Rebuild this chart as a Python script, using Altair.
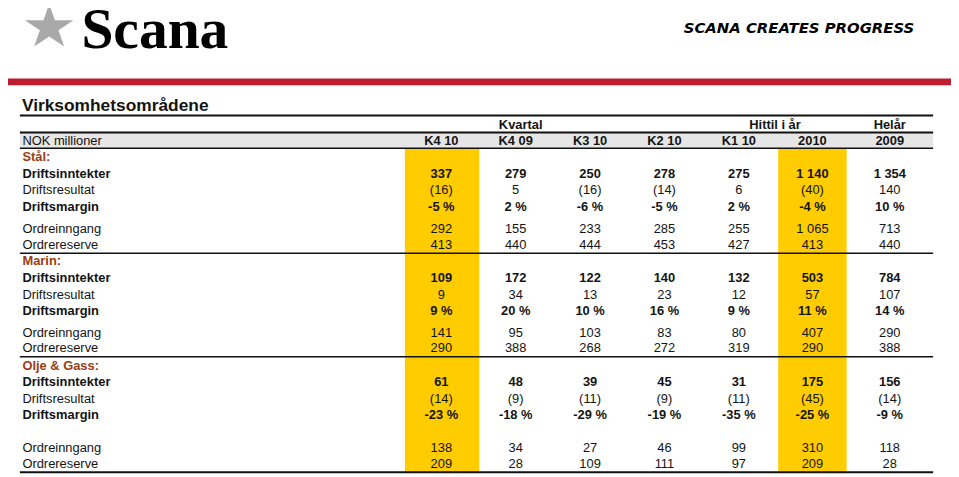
import altair as alt
import pandas as pd

# ---------------- data ----------------
columns = ["K4 10", "K4 09", "K3 10", "K2 10", "K1 10", "2010", "2009"]
group_headers = ["Kvartal", "Hittil i år", "Helår"]
unit_label = "NOK millioner"
title = "Virksomhetsområdene"
brand = "Scana"
tagline = "SCANA CREATES PROGRESS"
segments = ["Stål:", "Marin:", "Olje & Gass:"]
row_labels = ["Driftsinntekter", "Driftsresultat", "Driftsmargin", "Ordreinngang", "Ordrereserve"]
row_kind = ["num", "paren", "pct", "num", "num"]
row_bold = [True, False, True, False, False]

stal_driftsinntekter = [337, 279, 250, 278, 275, 1140, 1354]
stal_driftsresultat = [-16, 5, -16, -14, 6, -40, 140]
stal_driftsmargin = [-5, 2, -6, -5, 2, -4, 10]
stal_ordreinngang = [292, 155, 233, 285, 255, 1065, 713]
stal_ordrereserve = [413, 440, 444, 453, 427, 413, 440]

marin_driftsinntekter = [109, 172, 122, 140, 132, 503, 784]
marin_driftsresultat = [9, 34, 13, 23, 12, 57, 107]
marin_driftsmargin = [9, 20, 10, 16, 9, 11, 14]
marin_ordreinngang = [141, 95, 103, 83, 80, 407, 290]
marin_ordrereserve = [290, 388, 268, 272, 319, 290, 388]

olje_driftsinntekter = [61, 48, 39, 45, 31, 175, 156]
olje_driftsresultat = [-14, -9, -11, -9, -11, -45, -14]
olje_driftsmargin = [-23, -18, -29, -19, -35, -25, -9]
olje_ordreinngang = [138, 34, 27, 46, 99, 310, 118]
olje_ordrereserve = [209, 28, 109, 111, 97, 209, 28]

segment_rows = [
    [stal_driftsinntekter, stal_driftsresultat, stal_driftsmargin, stal_ordreinngang, stal_ordrereserve],
    [marin_driftsinntekter, marin_driftsresultat, marin_driftsmargin, marin_ordreinngang, marin_ordrereserve],
    [olje_driftsinntekter, olje_driftsresultat, olje_driftsmargin, olje_ordreinngang, olje_ordrereserve],
]
highlight_columns = ["K4 10", "2010"]

# ---------------- layout (column units / row-slot units) ----------------
W, H = 951, 469
X_DOMAIN = [-4.8267, 7.8533]
Y_DOMAIN = [-7.92, 20.22]
col_u = [1, 2, 3, 4, 5, 5.99, 7.03]
label_u = -4.633
left_u, right_u = -4.667, 7.613
group_u = [2.067, 5.487, 7.03]
highlight_span = {"K4 10": (0.51, 1.51), "2010": (5.53, 6.45)}
segment_slots = [
    [1, 2, 3, 4, 5.34, 6.3],
    [7.3, 8.3, 9.3, 10.3, 11.6, 12.56],
    [13.64, 14.6, 15.6, 16.6, 18.56, 19.56],
]
group_slot, header_slot = -0.96, 0
band_top, band_bottom = -0.51, 0.45
rules = [(-1.53, 2.0), (-0.51, 2.0), (0.45, 1.4), (6.8, 1.6), (13.06, 1.6), (20.05, 2.0)]
table_bottom = 20.05

TXT = "#141414"
SEG = "#993D14"
YELLOW = "#FFCC00"
FONT = "Liberation Sans"


def fmt_int(v):
    return f"{abs(v):,}".replace(",", " ")


def fmt(v, kind):
    if kind == "pct":
        return f"{v} %"
    if kind == "paren" and v < 0:
        return f"({fmt_int(v)})"
    return ("-" if v < 0 else "") + fmt_int(v)


bold_cells, reg_cells, bold_labels, reg_labels, seg_labels = [], [], [], [], []
for seg_name, rows, slots in zip(segments, segment_rows, segment_slots):
    seg_labels.append({"u": label_u, "s": slots[0], "t": seg_name})
    for r, (label, vals) in enumerate(zip(row_labels, rows)):
        s = slots[r + 1]
        (bold_labels if row_bold[r] else reg_labels).append({"u": label_u, "s": s, "t": label})
        for c, v in enumerate(vals):
            (bold_cells if row_bold[r] else reg_cells).append(
                {"u": col_u[c], "s": s, "t": fmt(v, row_kind[r])}
            )

header_cells = [{"u": u, "s": header_slot, "t": t} for u, t in zip(col_u, columns)]
header_cells += [{"u": u, "s": group_slot, "t": t} for u, t in zip(group_u, group_headers)]

xs = alt.Scale(domain=X_DOMAIN, nice=False, zero=False)
ys = alt.Scale(domain=Y_DOMAIN, nice=False, zero=False, reverse=True)
X = alt.X("u:Q", scale=xs, axis=None)
Y = alt.Y("s:Q", scale=ys, axis=None)

rect_rows = [{"u": left_u, "u2": right_u, "s": band_top, "s2": band_bottom, "c": "#E6E6E6"}]
for name in highlight_columns:
    a, b = highlight_span[name]
    rect_rows.append({"u": a, "u2": b, "s": band_bottom, "s2": table_bottom, "c": YELLOW})
rect_rows.append({"u": X_DOMAIN[0], "u2": X_DOMAIN[1], "s": -3.78, "s2": -3.36, "c": "#C01C30"})

rects = alt.Chart(pd.DataFrame(rect_rows)).mark_rect().encode(
    x=X, x2="u2:Q", y=Y, y2="s2:Q", color=alt.Color("c:N", scale=None)
)

rule_df = pd.DataFrame([{"u": left_u, "u2": right_u, "s": s, "w": w} for s, w in rules])
rule_layer = alt.Chart(rule_df).mark_rule(color="#111111").encode(
    x=X, x2="u2:Q", y=Y, size=alt.Size("w:Q", scale=None, legend=None)
)


def text_layer(rows, **kw):
    return alt.Chart(pd.DataFrame(rows)).mark_text(font=FONT, fontSize=13, **kw).encode(
        x=X, y=Y, text="t:N"
    )


cells_b = text_layer(bold_cells, fontWeight="bold", color=TXT, align="center", baseline="middle")
cells_r = text_layer(reg_cells, color=TXT, align="center", baseline="middle")
labels_b = text_layer(bold_labels, fontWeight="bold", color=TXT, align="left", baseline="middle")
labels_r = text_layer(reg_labels, color=TXT, align="left", baseline="middle")
segs = text_layer(seg_labels, fontWeight="bold", color=SEG, align="left", baseline="middle")
heads = text_layer(header_cells, fontWeight="bold", color=TXT, align="center", baseline="middle")
unit = text_layer([{"u": label_u, "s": header_slot, "t": unit_label}], color=TXT, align="left", baseline="middle")

title_layer = alt.Chart(pd.DataFrame([{"u": -4.64, "s": -1.8, "t": title}])).mark_text(
    font=FONT, fontSize=17.5, fontWeight="bold", color=TXT, align="left", baseline="alphabetic"
).encode(x=X, y=Y, text="t:N")

brand_layer = alt.Chart(pd.DataFrame([{"u": -3.84, "s": -5.64, "t": brand}])).mark_text(
    font="Liberation Serif", fontSize=58, fontWeight="bold", color="#000000", align="left", baseline="alphabetic"
).encode(x=X, y=Y, text="t:N")

tag_layer = alt.Chart(pd.DataFrame([{"u": 7.36, "s": -6.5, "t": tagline}])).mark_text(
    font="DejaVu Sans", fontSize=15, fontWeight="bold", fontStyle="italic", color="#000000",
    align="right", baseline="alphabetic"
).encode(x=X, y=Y, text="t:N")

star_path = ("M0,-0.92 L0.2245,-0.284 L0.951,-0.284 L0.363,0.109 L0.588,0.744 "
             "L0,0.351 L-0.588,0.744 L-0.363,0.109 L-0.951,-0.284 L-0.2245,-0.284 Z")
star = alt.Chart(pd.DataFrame([{"u": -4.273, "s": -6.858}])).mark_point(
    shape=star_path, filled=True, size=2654, color="#A9A9A9", opacity=1, strokeWidth=0
).encode(x=X, y=Y)

chart = alt.layer(
    rects, rule_layer, cells_b, cells_r, labels_b, labels_r, segs, heads, unit,
    title_layer, brand_layer, tag_layer, star
).properties(width=W, height=H, padding=0, autosize="none").configure_view(stroke=None)

chart.save("out.html", embed_options={"renderer": "svg", "actions": False})
